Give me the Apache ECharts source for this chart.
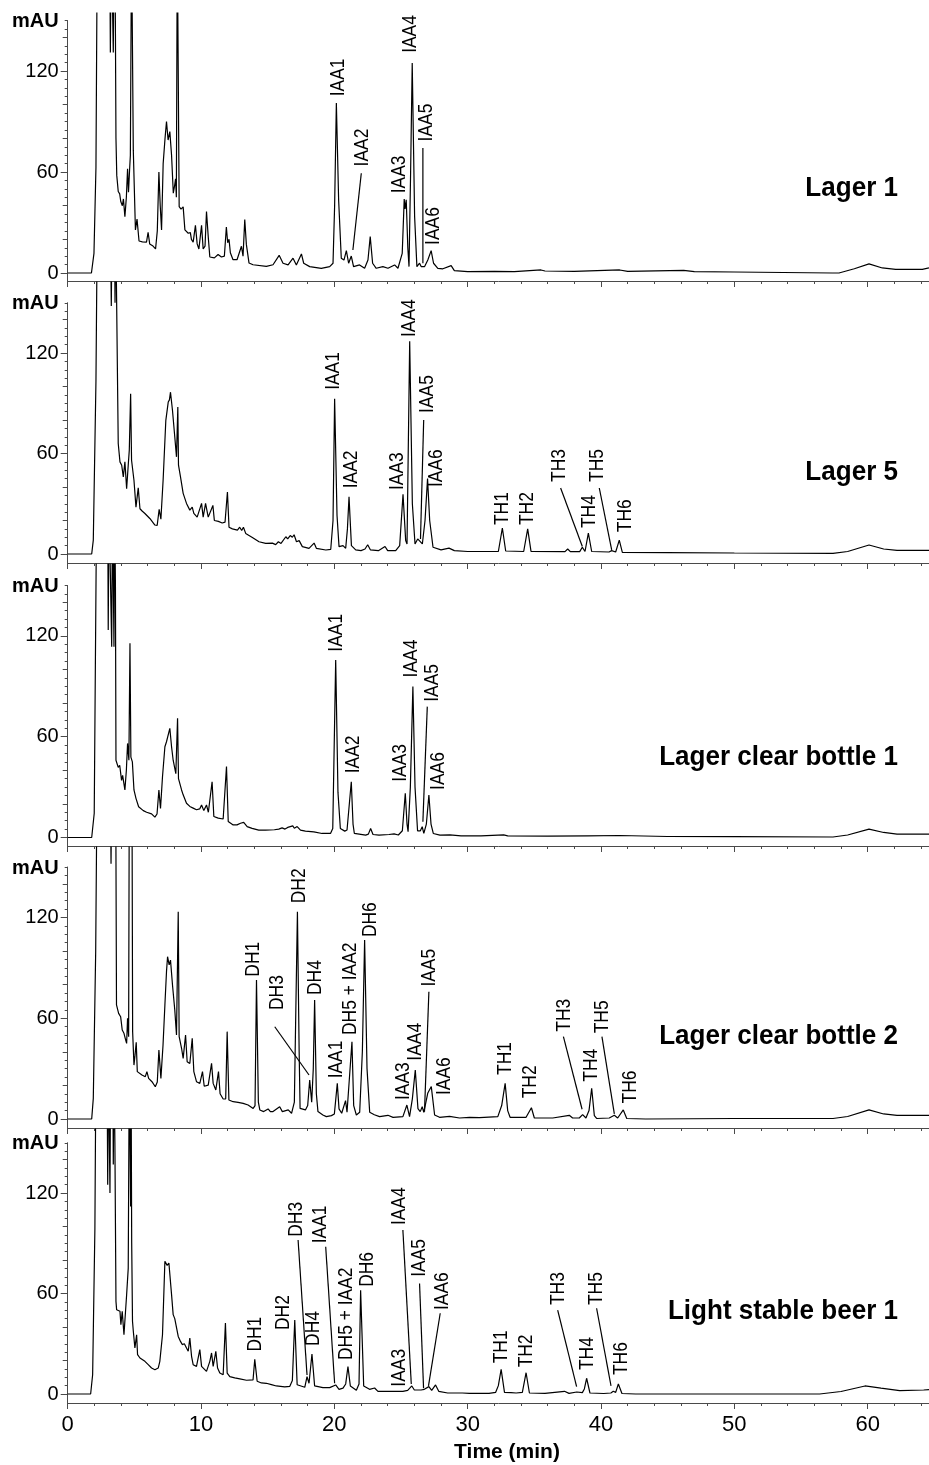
<!DOCTYPE html>
<html>
<head>
<meta charset="utf-8">
<script src="https://cdn.jsdelivr.net/npm/echarts@6/dist/echarts.min.js"></script>
<style>
html,body{margin:0;padding:0;background:#fff;}
#chart{width:929px;height:1465px;}
</style>
</head>
<body>
<div id="chart"></div>
<script>
// ---------------- DATA ----------------
const PANEL_NAMES = ['Lager 1', 'Lager 5', 'Lager clear bottle 1', 'Lager clear bottle 2', 'Light stable beer 1'];
const X_TICK_LABELS = [0, 10, 20, 30, 40, 50, 60];
const Y_TICK_LABELS = [0, 60, 120];
const X_LABEL = 'Time (min)';
const Y_UNIT = 'mAU';

// [time (min), absorbance (mAU)]
const lager1 = [[0,0],[1.78,0],[1.97,11.7],[2.12,63],[2.22,200],[3.15,200],[3.2,131],[3.27,200],[3.38,200],[3.42,131],[3.48,200],[3.55,190],[3.62,80],[3.68,58],[3.79,48.4],[3.9,47],[3.98,42.5],[4.1,40],[4.18,44],[4.29,33.5],[4.4,45],[4.49,62],[4.56,48],[4.64,61],[4.7,70],[4.79,200],[4.86,200],[4.92,73],[5.0,72],[5.08,25.6],[5.2,32],[5.35,19],[5.6,18.5],[5.91,18.3],[6.03,24.2],[6.15,17.3],[6.4,16],[6.59,14.3],[6.72,25],[6.84,60],[6.94,40],[7.04,25.6],[7.16,65],[7.3,80],[7.41,90],[7.53,79],[7.66,84],[7.79,70],[7.92,47.4],[8.02,52],[8.09,56],[8.15,45],[8.22,200],[8.3,200],[8.36,39.5],[8.5,38],[8.66,39.3],[8.79,25.6],[9.04,23.6],[9.2,24],[9.28,20],[9.41,18.3],[9.58,28.3],[9.71,17.3],[9.84,14.3],[10.04,28.3],[10.16,14.3],[10.3,16],[10.41,36.5],[10.54,21.6],[10.66,9.5],[11.0,9],[11.28,11],[11.53,9.5],[11.75,10],[11.9,27.3],[12.0,18],[12.1,20],[12.2,12],[12.4,7.9],[12.7,7.9],[13.03,15.9],[13.15,10],[13.28,31.7],[13.4,17],[13.6,5.9],[13.9,4.9],[14.9,3.9],[15.4,4.9],[15.86,10.5],[16.15,5.8],[16.53,4.8],[16.9,8.8],[17.15,4.8],[17.53,11.3],[17.7,5.8],[18.15,3.8],[19.02,2.8],[19.65,3.8],[19.9,5.8],[20.02,40],[20.15,101],[20.32,43.5],[20.52,8.8],[20.72,7.7],[20.9,13.3],[21.07,5.8],[21.27,10.1],[21.44,3.8],[21.89,4.8],[22.27,2.8],[22.52,7.7],[22.69,21.6],[22.87,5.8],[23.14,2.8],[23.64,3.8],[24.02,2.8],[24.52,4.8],[24.77,2.8],[25.09,11.7],[25.24,43.9],[25.3,38],[25.39,43.5],[25.51,15],[25.6,3.8],[25.72,60],[25.84,124.8],[26.02,33.5],[26.19,3.8],[26.39,5.8],[26.51,3.8],[26.77,3.8],[27.01,7.7],[27.26,13.3],[27.44,5.8],[27.76,2.8],[28.14,2.5],[28.76,4.4],[29.0,1.4],[30.0,0.8],[32,1],[33.5,0.8],[35.5,1.8],[35.8,1.2],[38,1],[41.4,1.8],[42,1],[46.2,1.6],[47,0.8],[50,0.6],[57.35,0],[57.85,0],[59,2.5],[60.1,5.4],[61.1,3],[62.1,2.2],[64.1,2.2],[64.6,3]];

const lager5 = [[0,0],[1.8,0],[1.92,8.3],[2.12,103.6],[2.22,200],[3.2,200],[3.27,148],[3.33,200],[3.5,200],[3.55,150],[3.6,200],[3.7,200],[3.79,66],[3.92,55],[4.05,53],[4.17,46],[4.29,55],[4.42,39],[4.54,53],[4.62,62],[4.72,95.6],[4.79,56],[4.87,57],[4.97,44],[5.12,28],[5.29,39.5],[5.42,27],[5.6,25.5],[5.79,24.2],[6.16,21.2],[6.54,17.3],[6.71,17],[6.86,26.7],[6.99,20.8],[7.16,44.6],[7.36,79.8],[7.54,90.7],[7.63,92],[7.71,96.6],[7.86,85.7],[8.03,70],[8.16,58],[8.26,87.7],[8.31,53],[8.46,46],[8.66,36.2],[8.91,30.2],[9.16,26.2],[9.34,28],[9.46,24.2],[9.71,22],[10.04,30.2],[10.16,22],[10.34,30.2],[10.54,22],[10.89,29],[11.0,20],[11.3,19.5],[11.59,18.5],[11.8,19],[11.98,37],[12.1,16],[12.35,15],[12.73,14.3],[12.9,16],[13.05,14],[13.18,16],[13.35,12.3],[13.85,9.9],[14.35,7.3],[14.85,6.3],[15.35,6.5],[15.6,5.6],[15.8,7.3],[16.0,6.3],[16.36,10.3],[16.5,9],[16.69,11],[16.85,10],[16.98,11.5],[17.16,7.3],[17.36,8],[17.6,4.4],[18.1,3.4],[18.48,6.5],[18.65,3.4],[19.36,2.4],[19.73,2.8],[19.9,20],[20.02,92.7],[20.2,23],[20.35,4.4],[20.65,5],[20.85,3.4],[20.98,15],[21.1,34.1],[21.28,5],[21.6,2.5],[22.0,2],[22.3,3],[22.5,5.5],[22.7,2.5],[23.3,2],[23.8,4.5],[24.0,2],[24.6,2],[24.9,5],[25.15,35.7],[25.35,8],[25.45,6],[25.65,127],[25.85,30],[26.05,6],[26.25,9],[26.4,10],[26.6,6],[26.8,20],[26.99,45],[27.15,20],[27.4,4],[28.0,2.5],[28.6,3.5],[29,2],[30,1.5],[32.3,1.5],[32.6,15.5],[32.85,1.8],[34.2,1.5],[34.5,15],[34.75,1.6],[37.3,1.4],[37.5,3],[37.7,1.4],[38.4,1.4],[38.6,4],[38.8,1.5],[39.05,12.5],[39.3,1.5],[40.6,1.2],[40.8,2],[41.1,1.2],[41.37,8.3],[41.6,1],[45,0.8],[50,0.6],[57.4,0.4],[58.5,1.5],[60.1,5.4],[61.2,3],[62.2,2.2],[64.6,2.2]];

const clear1 = [[0,0],[1.8,0],[1.99,14.4],[2.17,200],[3.0,200],[3.04,123.5],[3.1,200],[3.25,200],[3.3,113.6],[3.36,200],[3.44,200],[3.47,113.6],[3.52,200],[3.58,150],[3.62,46],[3.67,46],[3.79,41.7],[3.9,43],[4.04,34],[4.12,37],[4.29,28.3],[4.4,40],[4.49,56],[4.59,46],[4.67,115.6],[4.74,47.8],[4.85,45],[4.97,28.3],[5.12,23.3],[5.2,24],[5.32,18.3],[5.67,16],[5.92,15],[6.29,14.1],[6.54,12.1],[6.7,14],[6.84,28.3],[6.96,17.3],[7.11,36.2],[7.29,54],[7.41,57],[7.54,58],[7.66,65],[7.79,54],[7.91,46],[8.11,38],[8.24,71],[8.31,35],[8.4,34],[8.54,28.3],[8.66,25.4],[8.91,20.4],[9.16,18.5],[9.41,17.5],[9.66,16.5],[9.9,17],[10.04,19.4],[10.21,16],[10.41,19.4],[10.55,15],[10.7,15],[10.83,33.2],[10.96,12.5],[11.29,11.5],[11.66,11],[11.8,12],[11.91,42.2],[12.04,9.5],[12.41,7.5],[12.7,7.5],[12.96,8.5],[13.1,7.5],[13.2,9],[13.46,6.5],[13.83,5.4],[14.33,4.4],[14.83,4.4],[15.5,4.6],[15.83,5],[16.08,5.7],[16.3,5],[16.5,6],[16.88,6.9],[17.0,5.5],[17.21,6.5],[17.46,4.4],[17.83,3.8],[18.46,3.4],[19.08,2.4],[19.71,2.4],[19.88,5.4],[20.1,105.7],[20.27,27],[20.45,5.4],[20.78,3.8],[20.95,4.5],[21.1,4],[21.27,33.2],[21.4,8],[21.5,2.4],[22.35,1.4],[22.55,2],[22.72,5.4],[22.9,1.8],[23.35,1.4],[24.1,1.8],[24.48,2.2],[24.8,1.5],[25.1,4],[25.32,26.3],[25.45,8],[25.53,3.5],[25.7,30],[25.89,89.8],[26.05,30],[26.24,4],[26.45,4],[26.59,6.4],[26.71,2.4],[26.9,8],[27.09,25.3],[27.25,8],[27.42,2.4],[27.92,1.4],[28.67,1.6],[29.5,1],[31,1],[32.7,1.6],[33,1],[36,0.8],[39,1],[41.4,1.2],[45,0.6],[50,0.5],[57.4,0.3],[58.5,1.5],[60.1,5],[61.2,3],[62.2,2],[64.6,2]];

const clear2 = [[0,0],[1.8,0],[1.92,12.3],[2.1,100],[2.2,200],[3.2,200],[3.25,152],[3.3,200],[3.6,200],[3.66,67.9],[3.82,62.9],[3.97,60.9],[4.09,53],[4.22,51],[4.35,47],[4.42,45],[4.49,59.9],[4.57,49],[4.62,200],[4.82,200],[4.87,52],[4.97,32.1],[5.05,38],[5.14,45.6],[5.22,28.2],[5.37,27.2],[5.57,26.2],[5.82,25.2],[5.94,28.2],[6.07,24.2],[6.32,22.2],[6.57,19.2],[6.72,22],[6.84,41.1],[6.99,24.2],[7.15,44],[7.29,67.9],[7.41,87.7],[7.49,96.6],[7.61,91.7],[7.71,94.6],[7.86,79.8],[8.03,65],[8.16,50],[8.29,123.4],[8.36,49],[8.54,42.1],[8.66,36.1],[8.84,50],[8.96,34.1],[9.16,33],[9.34,48],[9.46,28.2],[9.66,22.2],[9.91,21.2],[10.11,28.2],[10.24,19.5],[10.54,20.2],[10.79,33.1],[10.91,21.2],[11.11,17.3],[11.31,28.2],[11.43,15],[11.66,11.9],[11.85,12],[11.96,52],[12.09,11.3],[12.41,10.3],[12.78,9.9],[13.16,9.3],[13.53,8.3],[13.91,6.3],[14.05,8],[14.16,82.7],[14.3,10],[14.41,5.4],[14.7,4.4],[15.03,6],[15.2,4.4],[15.4,4.4],[15.9,7.3],[16.1,4.4],[16.54,5.4],[16.79,3.4],[17.0,10],[17.1,60],[17.23,123.4],[17.36,40],[17.43,6.3],[17.83,5.4],[18.0,8],[18.15,23.2],[18.3,10],[18.42,30],[18.52,70.8],[18.65,15],[18.77,4.4],[19.14,2.4],[19.4,1.4],[19.78,2],[20.0,3],[20.22,21.2],[20.35,6],[20.55,3.4],[20.84,10.9],[20.95,4],[21.1,5],[21.32,46],[21.45,8],[21.65,2.4],[21.9,4],[22.1,40],[22.27,106.5],[22.45,30],[22.65,4],[23.0,2.5],[23.39,1.4],[24.02,2.2],[24.4,1],[25.14,1.4],[25.44,8.3],[25.64,1.4],[25.85,12],[26.07,29.2],[26.27,6.2],[26.44,4.4],[26.59,7.3],[26.71,4],[27.01,15.5],[27.27,19.3],[27.52,2.4],[27.89,1],[28.64,1.6],[29.39,0.6],[30.14,1],[30.89,0.8],[32.26,1.4],[32.55,8],[32.81,21.2],[33.0,5],[33.18,1],[33.75,1],[33.85,1.5],[34.38,1],[34.78,6.7],[35.0,0.6],[36.38,0.6],[37.62,2.2],[37.87,0.6],[38.37,0.6],[38.62,2.6],[38.87,0.6],[39.1,5],[39.3,18.3],[39.5,2],[39.67,0.3],[40.62,0.6],[41.0,2.2],[41.25,0.6],[41.67,5.4],[41.93,0.3],[43.35,0],[50,0.3],[57.4,0.3],[58.5,1.5],[60.1,5.4],[61.2,3],[62.2,2.2],[64.6,2.2]];

const stable1 = [[0,0],[1.72,0],[1.87,11.5],[2.04,99],[2.12,200],[2.95,200],[3.0,125],[3.06,200],[3.12,200],[3.17,120],[3.22,200],[3.38,200],[3.42,137],[3.47,200],[3.54,150],[3.62,55.3],[3.67,50.3],[3.79,49.4],[3.92,49.4],[3.99,41.4],[4.09,49.4],[4.22,35.4],[4.34,36],[4.42,59.3],[4.54,75],[4.62,200],[4.69,200],[4.72,112],[4.75,200],[4.8,90],[4.86,43.4],[4.92,37.6],[5.04,27.5],[5.17,35.4],[5.24,23.5],[5.42,21.5],[5.79,19.5],[6.04,17.5],[6.29,15.5],[6.54,14.5],[6.79,15.5],[6.91,19.5],[7.11,35.4],[7.29,79.2],[7.46,76.8],[7.59,78.2],[7.79,59.3],[7.91,47.4],[8.03,45],[8.14,44.4],[8.29,34.4],[8.46,31.4],[8.59,29.5],[8.75,30],[8.91,27.5],[9.04,25.5],[9.16,33.4],[9.29,22.5],[9.41,17.5],[9.66,16.5],[9.91,26.5],[10.04,16.5],[10.41,13.5],[10.66,19.5],[10.79,24.5],[10.91,16.5],[11.11,25.5],[11.24,15.5],[11.41,12.5],[11.66,11.5],[11.83,42.4],[11.96,12.5],[12.16,10.4],[12.53,9.6],[12.91,9],[13.41,8.2],[13.9,8.4],[14.03,20.7],[14.21,7.6],[14.53,6.6],[14.9,6.4],[15.03,7.2],[15.28,5.6],[15.65,4.8],[16.28,4.2],[16.66,4.6],[16.85,8],[17.03,44.2],[17.21,5.5],[17.29,4.8],[17.78,4],[17.95,10.3],[18.1,6.4],[18.32,23.9],[18.52,4.8],[19.14,3.8],[19.65,3.8],[20.1,5.4],[20.35,2.8],[20.65,3.5],[20.85,6],[21.02,16.3],[21.2,4.8],[21.65,2.2],[21.85,6],[21.97,62],[22.2,4.8],[22.64,2.8],[23.02,3.6],[23.27,1.6],[24.14,1.6],[25.14,1.6],[25.5,2.2],[25.81,4.8],[26.0,2.4],[26.5,2.4],[26.75,2.8],[27.09,4.4],[27.3,2.2],[27.59,5.4],[27.83,1.6],[28.5,0.6],[29.6,0.6],[30.13,0.4],[31.6,0.4],[32.1,1],[32.3,5],[32.51,14.7],[32.76,1],[33.25,0.8],[33.33,1.2],[33.63,0.6],[34.1,1],[34.38,12.7],[34.63,0.6],[35.8,0.4],[37.26,1.6],[37.6,0.4],[38.18,1.2],[38.33,2.2],[38.6,0.8],[38.75,3],[38.92,9.4],[39.17,0.6],[40.2,0.3],[40.74,0.6],[40.92,1.6],[41.1,1],[41.3,6],[41.57,0.3],[42.6,0],[45.1,0],[50,0],[56.4,0],[58,1.5],[59.8,4.8],[61,3.5],[62.4,2],[64.2,2.4],[64.6,2.6]];

// peak annotations: [label, text time, text base value, (leader from time, value, to time, value)]
const annLager1 = [['IAA1',20.27,105],['IAA2',22.08,63.3,22.02,59.3,21.39,13.7],['IAA3',24.89,47.4],['IAA4',25.69,130.8],['IAA5',26.89,78.2,26.64,74.2,26.64,5.8],['IAA6',27.44,16.7]];
const annLager5 = [['IAA1',19.91,98],['IAA2',21.27,39.2],['IAA3',24.74,38.2],['IAA4',25.64,129.5],['IAA5',27.0,84.2,26.7,80,26.46,9],['IAA6',27.67,40],['TH1',32.6,17.3],['TH2',34.47,17.3],['TH3',36.9,43,36.97,39.4,38.6,4.5],['TH4',39.1,15.5],['TH5',39.7,43,39.87,39.4,40.8,2.5],['TH6',41.82,13]];
const annClear1 = [['IAA1',20.15,110.6],['IAA2',21.39,38.2],['IAA3',24.95,33.2],['IAA4',25.79,95.3],['IAA5',27.33,80.8,26.97,77.9,26.64,9.4],['IAA6',27.81,28.3]];
const annClear2 = [['DH1',13.9,84.7],['DH2',17.34,128.4],['DH3',15.72,64.9,15.53,54.9,18.1,26.2],['DH4',18.6,73.8],['IAA1',20.15,24.2],['DH5 + IAA2',21.2,50],['DH6',22.72,108.3],['IAA3',25.2,11.3],['IAA4',26.08,34.7],['IAA5',27.1,78.8,27.09,75.8,26.76,4.3],['IAA6',28.26,14.3],['TH1',32.78,26.2],['TH2',34.7,12.3],['TH3',37.27,52,37.18,49,38.58,5.8],['TH4',39.27,22.2],['TH5',40.1,51,40.07,49,41.0,3],['TH6',42.16,9.3]];
const annStable1 = [['DH1',14.1,25.3],['DH2',16.15,38.2],['DH3',17.12,93.9,17.28,91.9,17.95,11.3],['DH4',18.4,28.7],['IAA1',18.94,90,19.35,87.9,20.02,6.4],['DH5 + IAA2',20.9,20.3],['DH6',22.47,64],['IAA3',24.83,4.4],['IAA4',24.85,100.9,25.14,97.9,25.77,6],['IAA5',26.35,70,26.39,66,26.69,3.4],['IAA6',28.1,50.1,27.94,48.2,27.06,4.8],['TH1',32.51,18.3],['TH2',34.38,15.9],['TH3',36.78,53.1,36.75,50.1,38.17,4.4],['TH4',38.97,14.3],['TH5',39.65,53.1,39.67,51.2,40.75,4.8],['TH6',41.52,11.3]];

const TRACES = [lager1, lager5, clear1, clear2, stable1];
const ANNOTATIONS = [annLager1, annLager5, annClear1, annClear2, annStable1];

// ---------------- LAYOUT ----------------
const FONT = '"Liberation Sans", Arial, Helvetica, sans-serif';
const X_MAX = 64.6, Y_TOP = 150;
const LEFT = 67.7, WIDTH = 929 - 67.7;
const AX_COLOR = '#4a4a4a';
// per panel: pixel y of x-axis line, zero line, top of data clip area, px per mAU, title y
const LAYOUT = [
  {axis: 281,  zero: 273,   dataTop: 13,   s: 1.683, nameY: 188},
  {axis: 563,  zero: 554,   dataTop: 282,  s: 1.675, nameY: 472},
  {axis: 846,  zero: 837.5, dataTop: 564,  s: 1.68,  nameY: 757},
  {axis: 1128, zero: 1119,  dataTop: 847,  s: 1.68,  nameY: 1036},
  {axis: 1403, zero: 1394,  dataTop: 1129, s: 1.675, nameY: 1311}
];

const xMinor = []; for (let v = 0; v <= 64; v += 2) xMinor.push(v);
const yMinor = []; for (let v = 0; v <= 150; v += 5) yMinor.push(v);
const yMid = []; for (let v = 0; v <= 140; v += 20) yMid.push(v);

const grids = [], xAxes = [], yAxes = [], series = [], graphics = [];

LAYOUT.forEach((p, i) => {
  const yMin = -(p.axis - p.zero) / p.s;
  const axisTop = p.zero - Y_TOP * p.s;
  grids.push({left: LEFT, width: WIDTH, top: axisTop, height: p.axis - axisTop});
  const gA = grids.length - 1;
  grids.push({left: LEFT, width: WIDTH, top: p.dataTop, height: p.axis - p.dataTop});
  const gD = grids.length - 1;
  const lineStyle = {color: AX_COLOR, width: 1};
  xAxes.push({gridIndex: gA, type: 'value', position: 'bottom', min: 0, max: X_MAX,
    axisLine: {show: true, onZero: false, lineStyle},
    axisTick: {show: true, length: 6, customValues: X_TICK_LABELS, lineStyle},
    axisLabel: {show: i === 4, customValues: X_TICK_LABELS, fontFamily: FONT, fontSize: 22, color: '#000', margin: 11},
    splitLine: {show: false}});
  xAxes.push({gridIndex: gA, type: 'value', position: 'bottom', min: 0, max: X_MAX,
    axisLine: {show: false, onZero: false},
    axisTick: {show: true, length: 3, customValues: xMinor, lineStyle},
    axisLabel: {show: false}, splitLine: {show: false}});
  const xData = xAxes.length;
  xAxes.push({gridIndex: gD, type: 'value', position: 'bottom', min: 0, max: X_MAX, show: false,
    axisLine: {onZero: false}, splitLine: {show: false}});
  yAxes.push({gridIndex: gA, type: 'value', position: 'left', min: yMin, max: Y_TOP,
    axisLine: {show: true, onZero: false, lineStyle},
    axisTick: {show: true, length: 3, customValues: yMinor, lineStyle},
    axisLabel: {show: false}, splitLine: {show: false}});
  yAxes.push({gridIndex: gA, type: 'value', position: 'left', min: yMin, max: Y_TOP,
    axisLine: {show: false, onZero: false},
    axisTick: {show: true, length: 5, customValues: yMid, lineStyle},
    axisLabel: {show: false}, splitLine: {show: false}});
  yAxes.push({gridIndex: gA, type: 'value', position: 'left', min: yMin, max: Y_TOP,
    axisLine: {show: false, onZero: false},
    axisTick: {show: true, length: 7, customValues: Y_TICK_LABELS, lineStyle},
    axisLabel: {show: true, customValues: Y_TICK_LABELS, fontFamily: FONT, fontSize: 20, color: '#000', margin: 9},
    splitLine: {show: false}});
  const yData = yAxes.length;
  yAxes.push({gridIndex: gD, type: 'value', position: 'left', min: yMin, max: (p.zero - p.dataTop) / p.s, show: false,
    axisLine: {onZero: false}, splitLine: {show: false}});

  series.push({type: 'line', xAxisIndex: xData, yAxisIndex: yData, data: TRACES[i],
    showSymbol: false, symbol: 'none', clip: true, silent: true, animation: false,
    lineStyle: {color: '#000', width: 1.2}});

  const ann = ANNOTATIONS[i];
  series.push({type: 'custom', xAxisIndex: xData, yAxisIndex: yData, silent: true, animation: false,
    data: ann.map(a => [a[1], a[2]]),
    renderItem: function (params, api) {
      const a = ann[params.dataIndex];
      const pt = api.coord([a[1], a[2]]);
      const children = [{type: 'text', x: pt[0], y: pt[1], rotation: Math.PI / 2, scaleX: 0.83,
        style: {text: a[0], font: '21px ' + FONT, fill: '#000', align: 'left', verticalAlign: 'middle'}}];
      if (a.length > 3) {
        const p1 = api.coord([a[3], a[4]]), p2 = api.coord([a[5], a[6]]);
        children.push({type: 'line', shape: {x1: p1[0], y1: p1[1], x2: p2[0], y2: p2[1]},
          style: {stroke: '#000', lineWidth: 1.2}});
      }
      return {type: 'group', children};
    }});

  graphics.push({type: 'text', left: 12, top: axisTop - 9,
    style: {text: Y_UNIT, font: 'bold 20px ' + FONT, fill: '#000'}});
  graphics.push({type: 'text', x: 898, y: p.nameY, scaleX: 0.93,
    style: {text: PANEL_NAMES[i], font: 'bold 28px ' + FONT, fill: '#000', align: 'right', verticalAlign: 'middle'}});
});

graphics.push({type: 'text', x: 507, y: 1452,
  style: {text: X_LABEL, font: 'bold 21px ' + FONT, fill: '#000', align: 'center', verticalAlign: 'middle'}});

const chart = echarts.init(document.getElementById('chart'), null, {renderer: 'canvas'});
chart.setOption({
  animation: false,
  backgroundColor: '#fff',
  grid: grids, xAxis: xAxes, yAxis: yAxes, series: series, graphic: graphics
});
</script>
</body>
</html>
